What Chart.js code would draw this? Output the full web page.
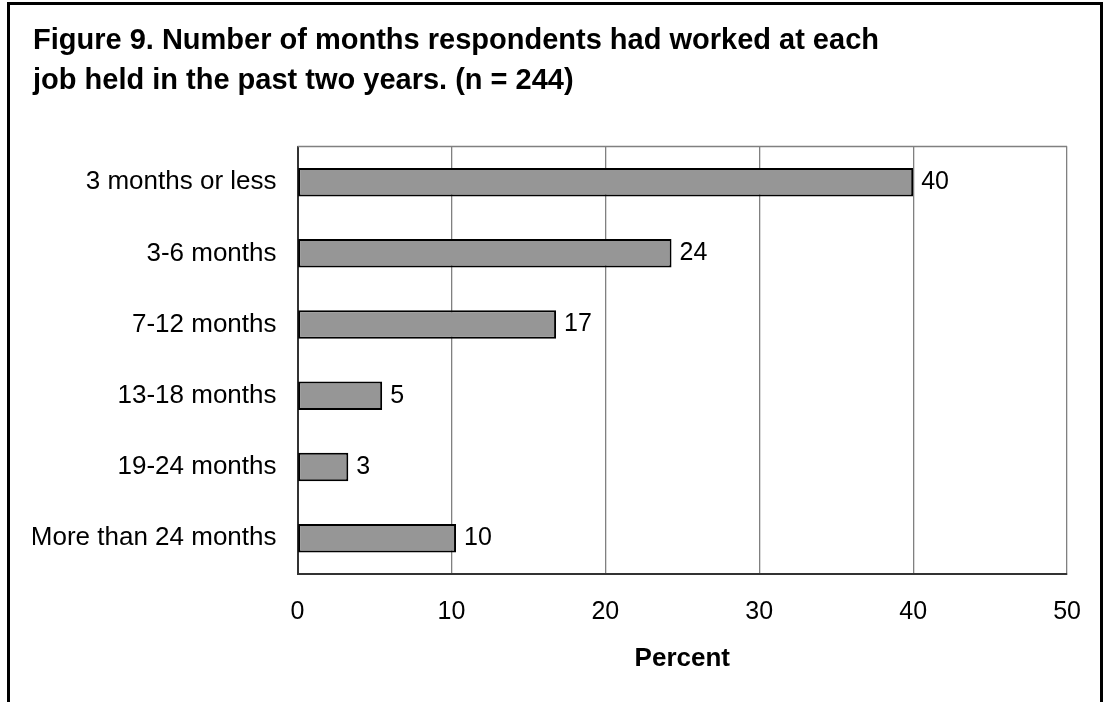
<!DOCTYPE html>
<html>
<head>
<meta charset="utf-8">
<script src="https://cdn.jsdelivr.net/npm/chart.js@4.4.1/dist/chart.umd.min.js"></script>
<style>
  html, body { margin: 0; padding: 0; background: #fff; overflow: hidden; }
  #wrap { position: absolute; left: 0; top: 0; width: 1104px; height: 702px; }
  #frame { position: absolute; left: 7px; top: 2px; width: 1096px; height: 760px;
           box-sizing: border-box; border: 3px solid #000; pointer-events: none; }
</style>
</head>
<body>
<div id="wrap"><canvas id="jobs"></canvas></div>
<div id="frame"></div>
<script>
// data
var categories = ['3 months or less', '3-6 months', '7-12 months', '13-18 months', '19-24 months', 'More than 24 months'];
var percents = [40, 24.3, 16.8, 5.5, 3.3, 10.3];
var valueLabels = ['40', '24', '17', '5', '3', '10'];
var xTicks = [0, 10, 20, 30, 40, 50];

var FONT = "'Liberation Sans', Arial, sans-serif";

// gray line along the top of the plot area, like the Excel plot box
var plotTop = {
    id: 'plotTop',
    beforeDatasetsDraw: function (chart) {
        var a = chart.chartArea, ctx = chart.ctx;
        ctx.save();
        ctx.strokeStyle = '#808080';
        ctx.lineWidth = 1.5;
        ctx.beginPath();
        ctx.moveTo(a.left, a.top);
        ctx.lineTo(a.right, a.top);
        ctx.stroke();
        ctx.restore();
    }
};

// value labels to the right of each bar
var barValues = {
    id: 'barValues',
    afterDatasetsDraw: function (chart) {
        var ctx = chart.ctx;
        var meta = chart.getDatasetMeta(0);
        ctx.save();
        ctx.font = '25px ' + FONT;
        ctx.fillStyle = '#000';
        ctx.textAlign = 'left';
        ctx.textBaseline = 'middle';
        meta.data.forEach(function (bar, i) {
            ctx.fillText(valueLabels[i], bar.x + 8, bar.y);
        });
        ctx.restore();
    }
};

var ctx = document.getElementById('jobs').getContext('2d');
new Chart(ctx, {
    type: 'bar',
    data: {
        labels: categories,
        datasets: [{
            data: percents,
            backgroundColor: '#969696',
            borderColor: '#000',
            borderWidth: 2,
            borderSkipped: false,
            categoryPercentage: 1,
            barPercentage: 0.4
        }]
    },
    options: {
        indexAxis: 'y',
        responsive: true,
        maintainAspectRatio: false,
        animation: false,
        layout: { padding: { left: 33, right: 36, top: 0, bottom: 28 } },
        plugins: {
            legend: { display: false },
            tooltip: { enabled: false },
            title: {
                display: true,
                align: 'start',
                text: ['Figure 9. Number of months respondents had worked at each',
                       'job held in the past two years. (n = 244)'],
                color: '#000',
                font: { family: FONT, size: 29, weight: 'bold', lineHeight: 1.38 },
                padding: { top: 20.5, bottom: 46 }
            }
        },
        scales: {
            x: {
                min: 0,
                max: 50,
                afterBuildTicks: function (scale) {
                    scale.ticks = xTicks.map(function (v) { return { value: v }; });
                },
                grid: { color: '#808080', lineWidth: 1.3, drawTicks: false },
                border: { color: '#333', width: 2 },
                ticks: { color: '#000', padding: 23, font: { family: FONT, size: 25 } },
                title: {
                    display: true,
                    text: 'Percent',
                    color: '#000',
                    padding: { top: -7, bottom: 0 },
                    font: { family: FONT, size: 26, weight: 'bold' }
                }
            },
            y: {
                grid: { display: false, drawTicks: false },
                border: { display: true, color: '#333', width: 2 },
                ticks: { color: '#000', padding: 21, font: { family: FONT, size: 26 } },
                afterFit: function (scale) { scale.width = 264.5; }
            }
        }
    },
    plugins: [plotTop, barValues]
});
</script>
</body>
</html>
